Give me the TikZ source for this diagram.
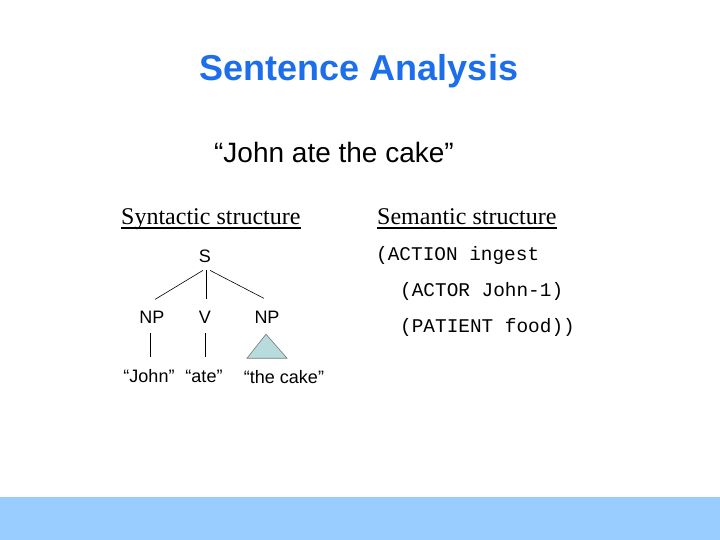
\documentclass[tikz,border=0pt]{standalone}
\usepackage{fontspec}
\setmainfont{Liberation Serif}
\setsansfont{Liberation Sans}
\setmonofont{Liberation Mono}
\usetikzlibrary{calc}
\definecolor{titleblue}{RGB}{28,110,235}
\definecolor{band}{RGB}{153,204,255}
\definecolor{trifill}{RGB}{184,220,222}
\definecolor{trigray}{RGB}{120,120,120}
\begin{document}
\begin{tikzpicture}[x=1pt,y=-1pt,
  treelab/.style={font=\fontsize{18}{20}\sffamily, inner sep=0pt, anchor=base},
  leaflab/.style={font=\fontsize{18}{20}\sffamily, inner sep=0pt, anchor=base},
  head/.style={font=\fontsize{24}{28}\rmfamily, inner sep=0pt, anchor=base west},
  uline/.style={draw=black, line width=1.3pt},
  mono/.style={font=\fontsize{19.4}{22}\ttfamily, inner sep=0pt, anchor=base west},
  branch/.style={draw=black, line width=0.6pt}]
\useasboundingbox (0,0) rectangle (720,540);
\fill[band] (0,497) rectangle (720,540);
\node[font=\fontsize{36}{40}\sffamily\bfseries, text=titleblue, inner sep=0pt, anchor=base] (title) at (359,81) {Sentence Analysis};
\node[font=\fontsize{28}{32}\sffamily, inner sep=0pt, anchor=base] (sent) at (334,163) {“John ate the cake”};
\node[head] (syn) at (121,225) {Syntactic structure};
\node[head] (sem) at (377,225) {Semantic structure};
\draw[uline] ([yshift=-3pt]syn.base west) -- ([yshift=-3pt]syn.base east);
\draw[uline] ([yshift=-3pt]sem.base west) -- ([yshift=-3pt]sem.base east);
% tree
\node[treelab] (S) at (205,262) {S};
\node[treelab] (np1) at (152,323) {NP};
\node[treelab] (v) at (205,323) {V};
\node[treelab] (np2) at (267,323) {NP};
\node[leaflab] (john) at (149,382) {“John”};
\node[leaflab] (ate) at (204,382) {“ate”};
\node[leaflab] (cake) at (284,383) {“the cake”};
\draw[branch] ([xshift=-2pt,yshift=-8pt]S.south) -- ([xshift=3pt,yshift=11pt]np1.north);
\draw[branch] ([xshift=1pt,yshift=-8pt]S.south) -- ([xshift=1pt,yshift=11pt]v.north);
\draw[branch] ([xshift=5pt,yshift=-8pt]S.south) -- ([xshift=-3pt,yshift=12pt]np2.north);
\draw[branch] ([xshift=-2pt,yshift=-10pt]np1.south) -- ([xshift=1pt,yshift=12pt]john.north);
\draw[branch] ([xshift=0pt,yshift=-10pt]v.south) -- ([xshift=1pt,yshift=12pt]ate.north);
\draw[draw=trigray, fill=trifill, line width=0.6pt]
  ($(np2.south)+(-1,11)$) -- ($(np2.south)+(-20,35)$) -- ($(np2.south)+(20,35)$) -- cycle;
% semantic
\node[mono] (l1) at (376,260) {(ACTION ingest};
\node[mono] (l2) at (400,296) {(ACTOR John-1)};
\node[mono] (l3) at (400,332) {(PATIENT food))};
\end{tikzpicture}
\end{document}
